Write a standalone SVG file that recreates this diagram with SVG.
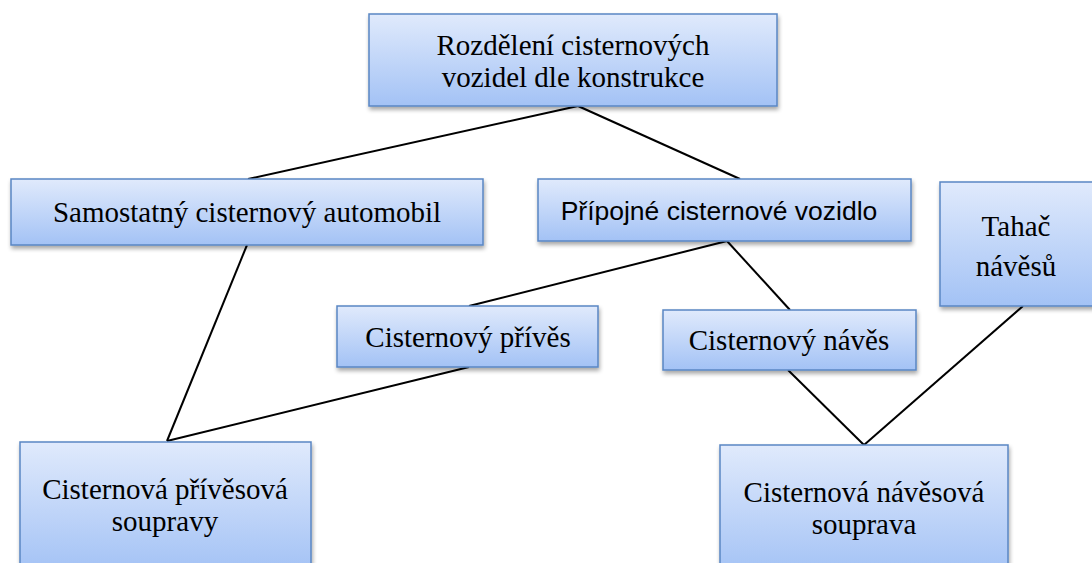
<svg xmlns="http://www.w3.org/2000/svg" width="1092" height="563" viewBox="0 0 1092 563">
<defs>
<linearGradient id="g" x1="0" y1="0" x2="0" y2="1">
<stop offset="0" stop-color="#e0eafc"/>
<stop offset="1" stop-color="#a3c2f5"/>
</linearGradient>
<filter id="sh" x="-10%" y="-10%" width="120%" height="130%">
<feGaussianBlur in="SourceAlpha" stdDeviation="2"/>
<feOffset dx="1" dy="3" result="b"/>
<feComponentTransfer><feFuncA type="linear" slope="0.35"/></feComponentTransfer>
<feMerge><feMergeNode/><feMergeNode in="SourceGraphic"/></feMerge>
</filter>
</defs>
<style>
.box{fill:url(#g);stroke:#5a86c3;stroke-width:1.5;filter:url(#sh)}
.t{font-family:"Liberation Serif","Times New Roman",serif;font-size:29px;fill:#000;text-anchor:middle}
.s{font-family:"Liberation Sans",Arial,sans-serif;font-size:26.5px;fill:#000;text-anchor:middle}
.c{stroke:#000;stroke-width:2;fill:none}
</style>
<rect width="1092" height="563" fill="#fff"/>
<g id="connectors">
<line class="c" x1="578" y1="106" x2="248" y2="179"/>
<line class="c" x1="578" y1="106" x2="740" y2="179"/>
<line class="c" x1="247" y1="245" x2="167" y2="441"/>
<line class="c" x1="727" y1="241" x2="469" y2="306"/>
<line class="c" x1="727" y1="241" x2="790" y2="310"/>
<line class="c" x1="469" y1="367" x2="167" y2="441"/>
<line class="c" x1="788" y1="370" x2="864" y2="445"/>
<line class="c" x1="1023" y1="306" x2="864" y2="445"/>
</g>
<g id="n-root"><rect class="box" x="369" y="14" width="408" height="92"/>
<text class="t" x="573" y="55">Rozdělení cisternových</text><text class="t" x="573" y="87">vozidel dle konstrukce</text></g>
<g id="n-samostatny"><rect class="box" x="11" y="179" width="472" height="66"/>
<text class="t" x="247" y="222">Samostatný cisternový automobil</text></g>
<g id="n-pripojne"><rect class="box" x="538" y="179" width="373" height="62"/>
<text class="s" x="719" y="220">Přípojné cisternové vozidlo</text></g>
<g id="n-tahac"><rect class="box" x="940" y="182" width="155" height="124"/>
<text class="t" x="1016" y="236">Tahač</text><text class="t" x="1016" y="276">návěsů</text></g>
<g id="n-prives"><rect class="box" x="337" y="306" width="261" height="61"/>
<text class="t" x="468" y="347">Cisternový přívěs</text></g>
<g id="n-naves"><rect class="box" x="663" y="310" width="253" height="60"/>
<text class="t" x="789" y="350">Cisternový návěs</text></g>
<g id="n-prives-souprava"><rect class="box" x="20" y="442" width="291" height="130"/>
<text class="t" x="165" y="499">Cisternová přívěsová</text><text class="t" x="165" y="531">soupravy</text></g>
<g id="n-naves-souprava"><rect class="box" x="720" y="445" width="288" height="130"/>
<text class="t" x="864" y="502">Cisternová návěsová</text><text class="t" x="864" y="534">souprava</text></g>
</svg>
